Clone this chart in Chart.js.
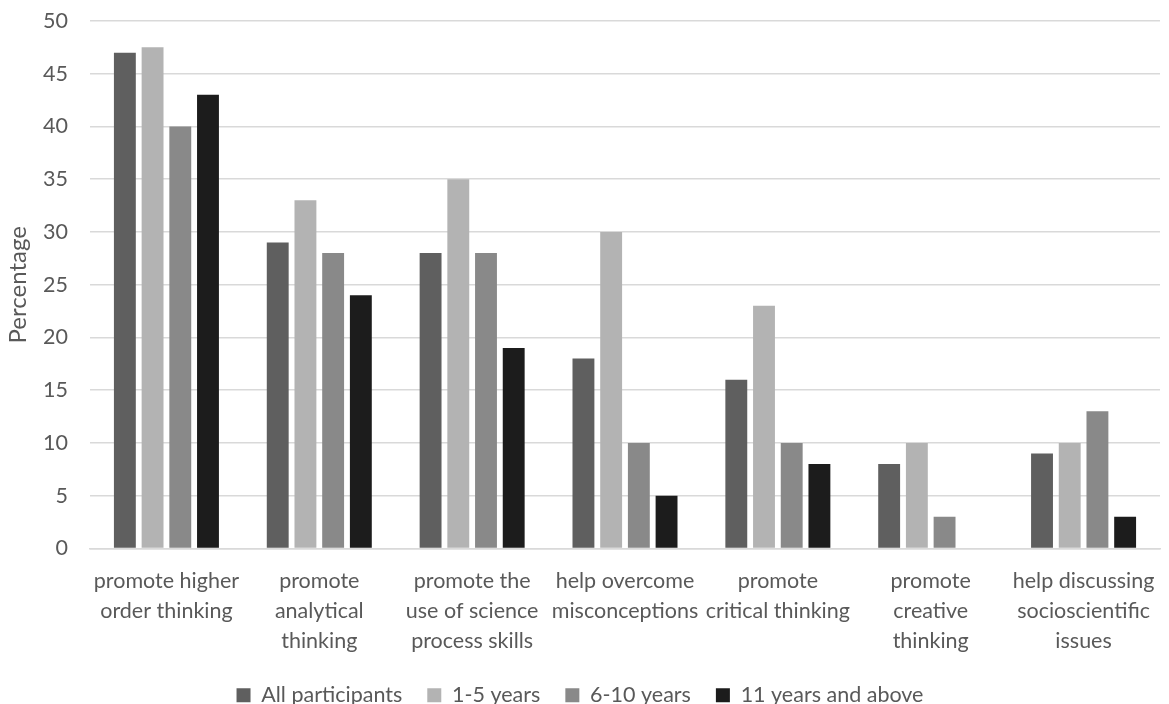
<!DOCTYPE html>
<html><head><meta charset="utf-8">
<script src="https://cdn.jsdelivr.net/npm/chart.js@4"></script>
<style>html,body{margin:0;padding:0;background:#fff}#wrap{width:1169px;height:704px}</style>
</head><body><div id="wrap"><canvas id="c" width="1169" height="704"></canvas></div>
<script>
const categories = [
  ["promote higher","order thinking"],
  ["promote","analytical","thinking"],
  ["promote the","use of science","process skills"],
  ["help overcome","misconceptions"],
  ["promote","critical thinking"],
  ["promote","creative","thinking"],
  ["help discussing","socioscientific","issues"]
];
const seriesNames = ["All participants","1-5 years","6-10 years","11 years and above"];
const allParticipants = [47, 29, 28, 18, 16, 8, 9];
const years1to5 = [47.5, 33, 35, 30, 23, 10, 10];
const years6to10 = [40, 28, 28, 10, 10, 3, 13];
const years11plus = [43, 24, 19, 5, 8, 0, 3];
const yTicks = [0,5,10,15,20,25,30,35,40,45,50];
const colors = ["#5f5f5f","#b3b3b3","#898989","#1c1c1c"];
const values = [allParticipants, years1to5, years6to10, years11plus];
const font = "Lato, 'Open Sans', sans-serif";
const fs = 21.5;
const legendTrim = {id:'legendTrim',beforeUpdate(ch){const lg=ch.legend; if(lg && !lg._trimmed){const f=lg.fit; lg.fit=function(){f.call(this); this.height-=8;}; lg._trimmed=true;}}};
new Chart(document.getElementById('c'), {
  type: 'bar',
  plugins:[legendTrim],
  data: {
    labels: categories,
    datasets: seriesNames.map((n,i)=>({label:n,data:values[i],backgroundColor:colors[i],borderWidth:0,barPercentage:0.79,categoryPercentage:0.725}))
  },
  options: {
    responsive:false, animation:false,
    layout:{padding:{left:0,right:9,top:0,bottom:-4}},
    plugins:{
      tooltip:{enabled:false},
      legend:{position:'bottom',labels:{boxWidth:14,boxHeight:14,padding:25,color:'#595959',font:{family:font,size:fs}}}
    },
    scales:{
      x:{afterFit:(s)=>{s.height-=6;},
         grid:{display:false},border:{color:'#d9d9d9',width:1.5},ticks:{color:'#595959',font:{family:font,size:fs,lineHeight:1.38},maxRotation:0,autoSkip:false,padding:10}},
      y:{min:0,max:50,afterBuildTicks:(a)=>{a.ticks=yTicks.map(v=>({value:v}));},
         afterFit:(s)=>{s.paddingTop=21;s.paddingBottom=13;s.width=90;},
         grid:{color:'#d9d9d9',lineWidth:1.5,drawTicks:false},border:{display:false},
         ticks:{color:'#595959',font:{family:font,size:fs},padding:22},
         title:{display:true,text:'Percentage',color:'#595959',font:{family:font,size:24},padding:{top:4,bottom:4}}}
    }
  }
});
</script></body></html>
